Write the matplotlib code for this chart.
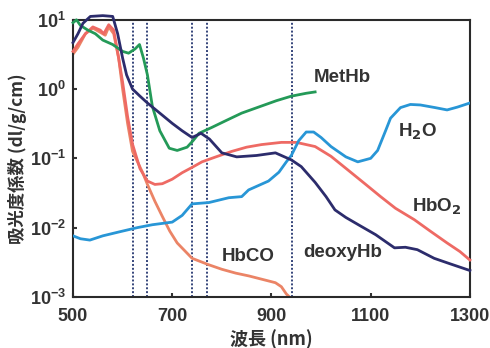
import matplotlib; matplotlib.use("Agg")
import matplotlib.pyplot as plt

# readings (wavelength nm, absorption coefficient dl/g/cm)
deoxy_wl = [500, 510, 520, 535, 560, 580, 590, 600, 608, 620, 635, 650, 680, 700, 720, 740, 758, 775,
            800, 830, 870, 908, 940, 960, 988, 1010, 1028, 1050, 1080, 1110, 1148, 1170, 1194, 1228, 1260, 1300]
deoxy = [4.7, 6.3, 8.9, 11.2, 11.5, 11.2, 6.3, 2.8, 1.6, 1.0, 0.79, 0.63, 0.42, 0.32, 0.25, 0.20, 0.23, 0.19,
         0.12, 0.105, 0.11, 0.12, 0.095, 0.076, 0.045, 0.028, 0.018, 0.014, 0.0105, 0.0079, 0.0051, 0.0052,
         0.0048, 0.0036, 0.0030, 0.0024]

hbo2_wl = [500, 510, 525, 540, 555, 562, 572, 582, 592, 600, 610, 620, 635, 650, 665, 680, 700, 720, 740, 760,
           788, 820, 850, 880, 920, 950, 988, 1020, 1054, 1090, 1120, 1150, 1188, 1220, 1254, 1280, 1300]
hbo2 = [3.5, 4.5, 6.3, 7.9, 7.1, 6.3, 8.5, 7.1, 2.8, 1.26, 0.40, 0.16, 0.071, 0.047, 0.042, 0.043, 0.050,
        0.062, 0.074, 0.089, 0.105, 0.126, 0.145, 0.158, 0.17, 0.17, 0.148, 0.107, 0.068, 0.042, 0.028, 0.019,
        0.013, 0.0089, 0.006, 0.0045, 0.0034]

hbco_wl = [500, 510, 525, 540, 555, 565, 572, 582, 592, 600, 610, 620, 640, 650, 665, 680, 695, 710, 740, 774,
           800, 828, 855, 880, 908, 920, 930, 936]
hbco = [3.2, 4.0, 6.3, 7.6, 6.6, 6.0, 7.9, 6.3, 2.8, 1.0, 0.32, 0.126, 0.063, 0.042, 0.024, 0.0145, 0.0089,
        0.006, 0.0036, 0.0029, 0.0025, 0.0022, 0.002, 0.0018, 0.0016, 0.0014, 0.0011, 0.001]

methb_wl = [500, 507, 515, 530, 545, 560, 580, 600, 612, 625, 634, 642, 650, 660, 675, 694, 710, 730, 742, 754,
            780, 808, 840, 874, 910, 940, 970, 988]
methb = [9.1, 10, 8.3, 7.1, 6.3, 5.1, 4.4, 3.5, 3.3, 3.8, 4.4, 2.8, 1.6, 0.56, 0.25, 0.14, 0.13, 0.145, 0.18,
         0.23, 0.28, 0.35, 0.45, 0.55, 0.68, 0.79, 0.87, 0.91]

h2o_wl = [500, 515, 534, 560, 594, 630, 660, 700, 720, 740, 774, 814, 840, 854, 894, 915, 930, 940, 955, 970,
          985, 1000, 1020, 1050, 1074, 1100, 1114, 1130, 1140, 1160, 1180, 1200, 1230, 1254, 1275, 1300]
h2o = [0.0076, 0.0069, 0.0066, 0.0076, 0.0087, 0.01, 0.011, 0.012, 0.015, 0.022, 0.023, 0.027, 0.028, 0.035,
       0.047, 0.063, 0.089, 0.11, 0.18, 0.24, 0.24, 0.2, 0.148, 0.105, 0.089, 0.1, 0.13, 0.25, 0.38, 0.54, 0.6,
       0.59, 0.54, 0.5, 0.55, 0.63]

marks = [620, 650, 740, 770, 942]   # dotted wavelength markers

plt.rcParams["font.family"] = ["Liberation Sans", "Noto Sans CJK JP", "DejaVu Sans"]
txt = "#333333"

fig = plt.figure(figsize=(4.9, 3.48), dpi=100)
ax = fig.add_axes([0.149, 0.147, 0.81, 0.796])

for m in marks:
    ax.axvline(m, color="#34447a", ls=(0, (1, 1)), lw=1.4, zorder=1)

ax.plot(hbco_wl, hbco, c="#eb8466", lw=2, zorder=2)
ax.plot(hbo2_wl, hbo2, c="#ee6a64", lw=2, zorder=3, clip_on=False)
ax.plot(h2o_wl, h2o, c="#2896d6", lw=2, zorder=3)
ax.plot(methb_wl, methb, c="#249a58", lw=2, zorder=4, clip_on=False)
ax.plot(deoxy_wl, deoxy, c="#2c2c6c", lw=2, zorder=4, clip_on=False)

ax.set_yscale("log")
ax.set_xlim(500, 1300); ax.set_ylim(1e-3, 10)
ax.set_xticks([500, 700, 900, 1100, 1300])
ax.set_yticks([1e-3, 1e-2, 1e-1, 1, 10])
ax.minorticks_off()
ax.tick_params(direction="in", length=3, width=1.5, colors=txt, labelsize=13)
ax.tick_params(axis="x", pad=8)
ax.tick_params(axis="y", pad=5)
for lab in ax.get_xticklabels() + ax.get_yticklabels():
    lab.set_fontweight("bold")
for s in ax.spines.values():
    s.set_linewidth(1.5); s.set_color("#2a2a2a")

ax.set_xlabel("波長 (nm)", fontsize=13, fontweight="bold", color=txt, labelpad=3,
              family=["Noto Sans CJK JP", "DejaVu Sans"])
ax.set_ylabel("吸光度係数 (dl/g/cm)", fontsize=12.5, fontweight="bold", color=txt, labelpad=2,
              family=["Noto Sans CJK JP", "DejaVu Sans"])

lab_kw = dict(fontsize=13.5, fontweight="bold", color=txt, ha="center", va="center")
ax.text(1042, 1.45, "MetHb", **lab_kw)
ax.text(1194, 0.24, "H$_\\mathbf{2}$O", **lab_kw)
ax.text(1234, 0.02, "HbO$_\\mathbf{2}$", **lab_kw)
ax.text(854, 0.0038, "HbCO", **lab_kw)
ax.text(1044, 0.0044, "deoxyHb", **lab_kw)

fig.savefig("out.png", dpi=100)
